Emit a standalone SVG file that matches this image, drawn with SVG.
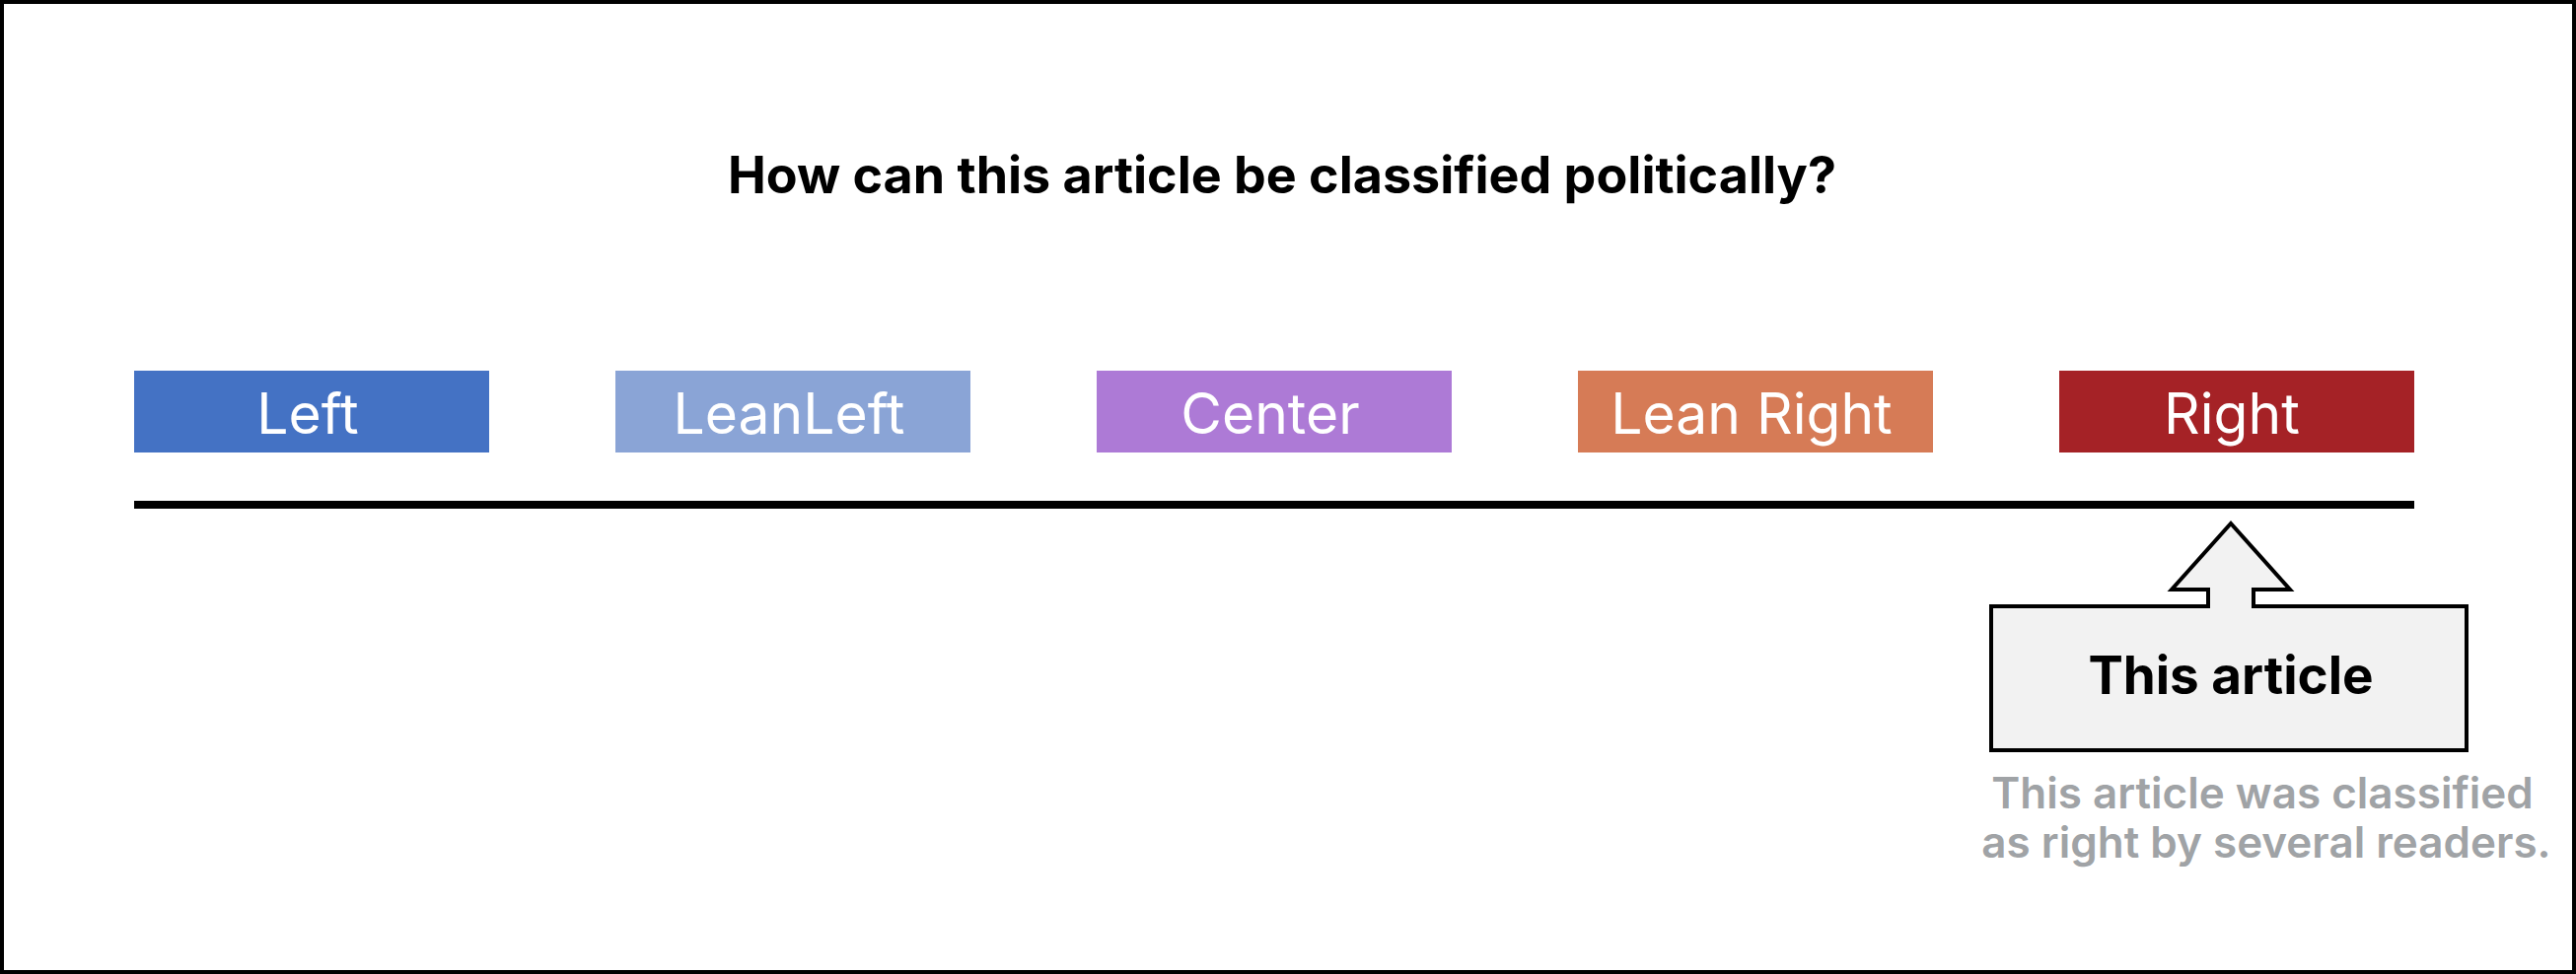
<svg xmlns="http://www.w3.org/2000/svg" width="2612" height="988" viewBox="0 0 2612 988">
<style>
.lbl{font-family:Inter,"Noto Sans",sans-serif;font-size:57px;fill:#fff;text-anchor:middle}
.title{font-family:Inter,"Noto Sans",sans-serif;font-size:52px;font-weight:700;fill:#000;text-anchor:middle}
.call{font-family:Inter,"Noto Sans",sans-serif;font-size:53px;font-weight:700;fill:#000;text-anchor:middle}
.note{font-family:Inter,"Noto Sans",sans-serif;font-size:44px;font-weight:600;fill:#a0a3a6;text-anchor:middle}
</style>
<rect x="2" y="2" width="2608" height="984" fill="#fff" stroke="#000" stroke-width="4"/>
<text class="title" x="1300" y="196">How can this article be classified politically?</text>
<g id="left"><rect x="136" y="376" width="360" height="83" fill="#4472c4"/><text class="lbl" x="312" y="440">Left</text></g>
<g id="leanleft"><rect x="624" y="376" width="360" height="83" fill="#8aa4d6"/><text class="lbl" x="800" y="440">LeanLeft</text></g>
<g id="center"><rect x="1112" y="376" width="360" height="83" fill="#ad7ad6"/><text class="lbl" x="1288" y="440">Center</text></g>
<g id="leanright"><rect x="1600" y="376" width="360" height="83" fill="#d67b56"/><text class="lbl" x="1776" y="440">Lean Right</text></g>
<g id="right"><rect x="2088" y="376" width="360" height="83" fill="#a52226"/><text class="lbl" x="2263" y="440">Right</text></g>
<g id="connectors">
<line x1="136" y1="512" x2="2448" y2="512" stroke="#000" stroke-width="8"/>
</g>
<g id="callout">
<path d="M2019,615 H2239 V598 H2202 L2262,531 L2322,598 H2285 V615 H2501 V761 H2019 Z" fill="#f2f2f2" stroke="#000" stroke-width="4"/>
<text class="call" x="2262" y="704">This article</text>
</g>
<g id="note">
<text class="note" x="2294" y="820">This article was classified</text>
<text class="note" x="2298" y="870">as right by several readers.</text>
</g>
</svg>
